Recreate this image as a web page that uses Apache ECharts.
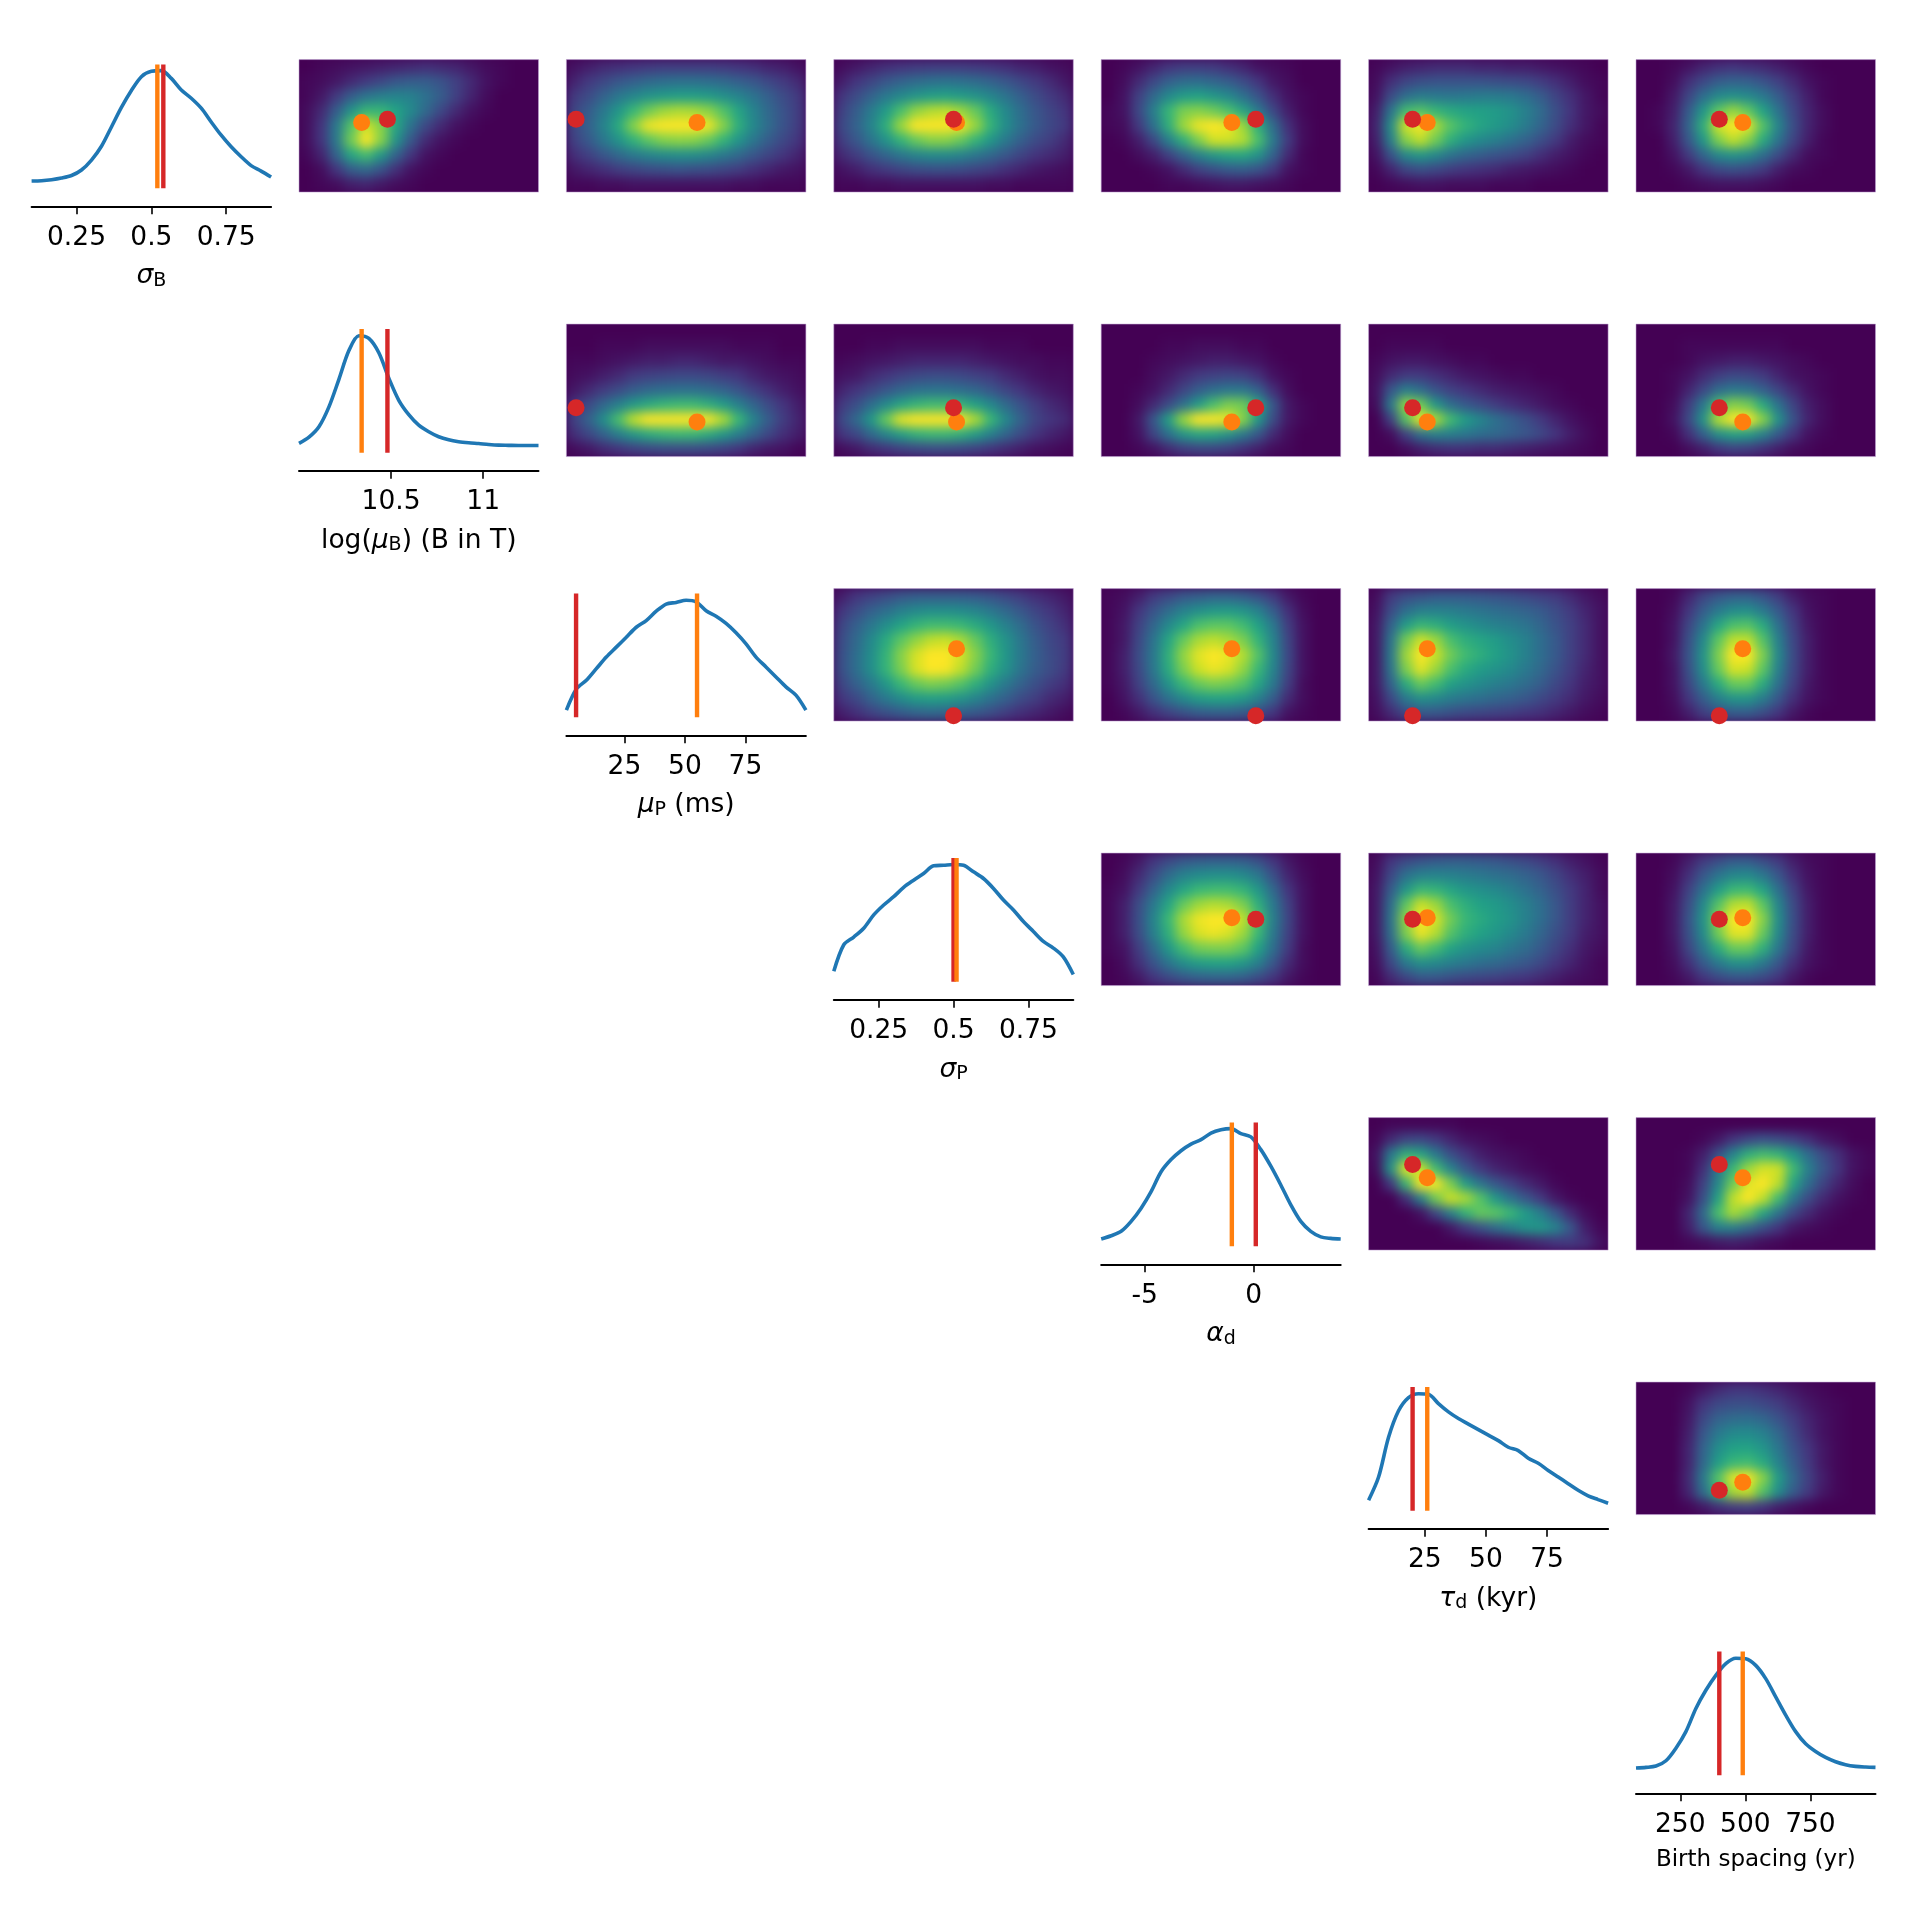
<!DOCTYPE html>
<html>
<head>
<meta charset="utf-8">
<script src="https://cdn.jsdelivr.net/npm/echarts@6/dist/echarts.min.js"></script>
<style>
  html, body { margin: 0; background: #fff; }
  #heat, #main { position: absolute; left: 0; top: 0; width: 1906px; height: 1906px; }
  #heat { filter: blur(5.5px); }
</style>
</head>
<body>
<div id="heat"></div>
<div id="main"></div>
<script>
// parameter ranges, ticks, and the two reference values (red = truth, orange = fit)
const paramMin = [0.1, 10, 1, 0.1, -7, 2, 80];
const paramMax = [0.9, 11.3, 100, 0.9, 4, 100, 1000];
const paramTicks = [[0.25, 0.5, 0.75], [10.5, 11], [25, 50, 75], [0.25, 0.5, 0.75], [-5, 0], [25, 50, 75], [250, 500, 750]];
const redValues = [0.54, 10.48, 5, 0.5, 0.1, 20, 400];
const orangeValues = [0.52, 10.34, 55, 0.51, -1, 26, 490];
const paramNames = [
  "{i|σ}{s|B}",
  "{t|log(}{i|μ}{s|B}{t|) (B in T)}",
  "{i|μ}{s|P}{t| (ms)}",
  "{i|σ}{s|P}",
  "{i|α}{s|d}",
  "{i|τ}{s|d}{t| (kyr)}",
  "{b|Birth spacing (yr)}",
];

// marginal curves, 25 evenly spaced samples over the parameter range, peak = 1
const curveSigmaB = [0, 0.003, 0.012, 0.027, 0.05, 0.1, 0.19, 0.315, 0.49, 0.667, 0.82, 0.945, 0.994, 1, 0.93, 0.825, 0.75, 0.66, 0.535, 0.415, 0.31, 0.22, 0.14, 0.09, 0.036];
const curveMuB = [0.02, 0.076, 0.17, 0.35, 0.6, 0.86, 0.995, 0.97, 0.84, 0.61, 0.41, 0.28, 0.185, 0.125, 0.08, 0.052, 0.035, 0.025, 0.018, 0.01, 0.004, 0.002, 0, 0, 0];
const curveMuP = [0, 0.19, 0.27, 0.375, 0.48, 0.57, 0.66, 0.75, 0.81, 0.895, 0.96, 0.975, 0.995, 0.98, 0.9, 0.85, 0.785, 0.7, 0.6, 0.48, 0.39, 0.3, 0.21, 0.135, 0];
const curveSigmaP = [0.03, 0.27, 0.34, 0.42, 0.54, 0.63, 0.705, 0.79, 0.855, 0.915, 0.985, 0.99, 0.997, 0.99, 0.93, 0.87, 0.78, 0.675, 0.585, 0.48, 0.39, 0.3, 0.24, 0.16, 0];
const curveAlpha = [0, 0.03, 0.07, 0.16, 0.28, 0.43, 0.61, 0.72, 0.8, 0.86, 0.9, 0.96, 0.99, 1, 0.955, 0.925, 0.81, 0.66, 0.49, 0.31, 0.16, 0.07, 0.02, 0.006, 0];
const curveTau = [0.03, 0.24, 0.6, 0.84, 0.96, 0.995, 0.99, 0.905, 0.83, 0.77, 0.72, 0.67, 0.62, 0.57, 0.51, 0.48, 0.41, 0.365, 0.3, 0.24, 0.18, 0.12, 0.07, 0.036, 0.003];
const curveBirth = [0, 0.006, 0.018, 0.066, 0.18, 0.33, 0.54, 0.705, 0.84, 0.945, 0.995, 0.99, 0.93, 0.81, 0.645, 0.48, 0.33, 0.22, 0.15, 0.096, 0.057, 0.03, 0.015, 0.009, 0.006];
const curves = [curveSigmaB, curveMuB, curveMuP, curveSigmaP, curveAlpha, curveTau, curveBirth];

// joint densities, 16 columns x 9 rows, top row first, 0-99
const heat01 = [
  [0,1,2,3,4,5,6,7,8,7,6,4,2,1,0,0],
  [1,2,4,7,10,14,18,20,20,17,12,7,3,1,0,0],
  [1,4,10,20,28,32,34,33,27,20,12,6,2,0,0,0],
  [2,7,20,40,55,55,47,36,24,14,7,3,1,0,0,0],
  [2,9,30,62,85,72,48,27,14,7,3,1,0,0,0,0],
  [2,9,30,68,95,72,40,18,7,3,1,0,0,0,0,0],
  [1,6,22,48,58,42,22,9,3,1,0,0,0,0,0,0],
  [0,2,9,20,24,17,8,3,1,0,0,0,0,0,0,0],
  [0,1,2,5,6,4,2,1,0,0,0,0,0,0,0,0],
];
const heat02 = [
  [3,5,7,8,9,10,11,11,11,11,10,9,8,6,5,3],
  [6,10,14,18,21,24,26,27,27,26,24,21,18,14,10,7],
  [10,15,22,29,35,40,43,45,45,43,39,34,28,21,15,10],
  [13,20,30,42,56,68,76,79,78,73,62,48,34,24,17,11],
  [14,22,34,50,72,90,98,99,97,90,72,52,36,25,17,11],
  [12,19,29,40,53,64,71,73,72,66,54,41,29,20,14,9],
  [8,12,18,24,30,34,37,38,38,35,30,24,18,13,9,6],
  [4,6,8,11,13,15,16,17,16,15,13,11,8,6,4,3],
  [1,1,2,2,3,3,3,3,3,3,3,2,2,1,1,1],
];
const heat03 = [
  [2,4,6,8,9,10,11,11,11,10,9,8,6,5,3,2],
  [5,9,13,18,22,25,27,28,27,25,22,18,14,10,7,4],
  [9,15,22,30,36,41,45,46,44,40,35,28,21,15,10,7],
  [12,20,31,44,60,74,80,82,76,66,50,36,26,18,13,9],
  [14,22,34,52,76,93,99,97,90,75,54,38,27,19,14,10],
  [11,18,28,40,54,66,72,72,66,54,42,30,21,15,11,7],
  [7,11,17,23,29,34,37,37,34,29,24,18,13,9,7,5],
  [3,5,8,10,13,15,16,16,15,13,11,8,6,4,3,2],
  [1,1,2,2,3,3,3,3,3,3,2,2,1,1,1,1],
];
const heat04 = [
  [0,1,3,6,9,11,11,10,8,6,3,2,1,0,0,0],
  [0,2,7,14,21,25,26,23,20,15,9,4,2,0,0,0],
  [0,3,12,24,36,44,46,42,36,27,17,8,3,1,0,0],
  [1,3,14,32,55,70,72,68,60,48,30,14,5,1,0,0],
  [1,2,10,27,52,76,90,97,90,76,52,25,8,2,0,0],
  [0,1,5,14,32,52,70,85,85,80,60,30,10,2,0,0],
  [0,0,2,5,12,22,33,42,47,48,40,22,7,1,0,0],
  [0,0,0,1,3,7,12,16,19,20,17,10,3,1,0,0],
  [0,0,0,0,1,1,2,3,4,4,3,2,1,0,0,0],
];
const heat05 = [
  [1,3,5,6,7,7,7,6,6,5,5,4,3,2,1,0],
  [2,8,13,16,17,17,17,17,16,15,14,11,8,5,2,1],
  [3,15,26,31,30,29,30,31,31,30,26,20,13,8,4,1],
  [5,28,58,62,55,50,47,46,44,40,33,25,16,9,4,2],
  [6,38,85,92,78,63,54,48,43,38,31,23,15,8,4,1],
  [5,32,72,82,68,52,42,36,32,27,22,16,10,5,2,1],
  [3,17,36,42,36,28,23,20,17,15,12,8,5,3,1,0],
  [1,6,13,16,14,11,9,8,7,5,4,3,2,1,0,0],
  [0,1,2,3,3,2,2,2,1,1,1,0,0,0,0,0],
];
const heat06 = [
  [0,0,1,3,6,8,9,8,7,5,3,1,0,0,0,0],
  [0,0,2,8,14,20,22,21,17,12,7,3,1,0,0,0],
  [0,0,4,13,26,36,39,36,30,20,11,5,1,0,0,0],
  [0,1,5,19,42,64,75,65,47,28,14,6,2,0,0,0],
  [0,1,6,22,52,85,97,88,62,35,16,6,2,0,0,0],
  [0,0,5,18,42,70,82,72,50,28,13,5,1,0,0,0],
  [0,0,3,10,23,36,40,36,26,15,7,2,1,0,0,0],
  [0,0,1,4,9,14,16,14,10,5,2,1,0,0,0,0],
  [0,0,0,1,2,3,3,3,2,1,0,0,0,0,0,0],
];
const heat12 = [
  [0,0,0,0,0,0,0,0,0,0,0,0,0,0,0,0],
  [0,0,1,1,1,2,2,2,2,2,2,1,1,1,0,0],
  [1,1,2,3,4,5,5,6,6,5,4,4,3,2,1,1],
  [2,3,5,7,10,12,13,14,14,13,11,9,6,4,3,2],
  [4,7,11,15,20,24,26,27,27,25,22,17,12,8,5,3],
  [9,15,24,33,43,50,55,57,57,52,44,33,23,15,9,5],
  [12,22,38,60,82,95,99,99,98,92,78,56,34,20,11,6],
  [8,14,22,32,42,50,54,56,55,50,42,32,22,14,8,5],
  [2,4,7,9,12,14,15,15,15,14,12,9,6,4,3,1],
];
const heat13 = [
  [0,0,0,0,0,0,0,0,0,0,0,0,0,0,0,0],
  [0,0,1,1,2,2,2,2,2,2,1,1,1,0,0,0],
  [1,2,3,4,5,6,6,6,6,5,4,3,2,2,1,1],
  [3,4,7,9,12,14,15,15,14,12,10,7,5,3,2,2],
  [6,9,13,18,23,27,28,28,26,23,18,13,9,6,4,3],
  [10,16,26,37,48,55,58,58,54,46,36,25,17,11,7,5],
  [14,24,42,66,88,97,99,98,92,78,56,36,22,13,9,7],
  [9,14,24,35,45,53,56,56,52,44,33,23,15,9,6,4],
  [2,4,7,9,12,14,15,15,14,12,9,7,5,3,2,1],
];
const heat14 = [
  [0,0,0,0,0,0,0,0,0,0,0,0,0,0,0,0],
  [0,0,0,0,1,1,2,2,2,1,1,0,0,0,0,0],
  [0,0,0,1,2,3,4,5,5,4,3,1,0,0,0,0],
  [0,0,0,2,4,7,10,12,13,12,8,3,1,0,0,0],
  [0,0,1,3,7,13,20,26,29,29,21,8,2,0,0,0],
  [0,0,2,7,15,27,44,60,70,68,48,18,4,1,0,0],
  [0,0,4,18,45,75,94,98,90,72,42,15,4,1,0,0],
  [0,0,3,13,27,41,48,47,40,30,18,7,2,0,0,0],
  [0,0,1,3,7,11,13,13,11,8,5,2,1,0,0,0],
];
const heat15 = [
  [0,0,0,0,0,0,0,0,0,0,0,0,0,0,0,0],
  [0,1,1,1,1,0,0,0,0,0,0,0,0,0,0,0],
  [1,3,4,4,3,2,1,1,0,0,0,0,0,0,0,0],
  [2,7,10,10,8,6,4,3,2,1,1,0,0,0,0,0],
  [3,18,32,26,17,12,9,7,5,4,3,2,1,0,0,0],
  [2,30,75,68,42,26,19,15,11,8,6,4,2,1,0,0],
  [0,12,62,90,78,58,44,35,27,21,16,10,6,3,1,0],
  [0,2,12,27,33,32,29,26,24,21,18,14,9,5,2,0],
  [0,0,2,5,7,8,8,7,7,6,5,4,3,2,1,0],
];
const heat16 = [
  [0,0,0,0,0,0,0,0,0,0,0,0,0,0,0,0],
  [0,0,0,1,1,1,1,1,1,1,0,0,0,0,0,0],
  [0,0,0,1,3,4,5,5,4,3,2,1,0,0,0,0],
  [0,0,1,3,7,11,14,13,10,6,3,2,1,0,0,0],
  [0,0,1,6,14,25,30,28,21,13,7,3,1,0,0,0],
  [0,0,2,11,30,60,72,68,50,28,13,5,2,0,0,0],
  [0,0,3,14,40,80,97,95,72,40,17,6,2,0,0,0],
  [0,0,1,8,21,38,46,44,33,19,9,3,1,0,0,0],
  [0,0,0,2,5,9,12,11,8,5,2,1,0,0,0,0],
];
const heat23 = [
  [5,9,12,15,18,20,20,20,20,19,17,14,11,8,6,4],
  [9,15,21,26,32,36,38,38,37,34,29,24,18,13,9,6],
  [13,21,29,38,47,54,58,58,56,50,42,33,25,17,12,8],
  [15,24,36,50,64,74,82,84,78,66,52,40,29,20,14,10],
  [16,26,38,54,72,86,95,96,86,72,56,42,30,21,15,11],
  [16,26,38,54,70,86,94,92,82,68,52,40,28,20,15,10],
  [13,21,30,42,56,66,70,68,62,52,40,30,22,16,11,8],
  [9,14,22,30,37,43,45,44,40,34,27,21,15,11,7,5],
  [5,8,12,16,19,22,23,22,20,18,15,11,8,6,4,2],
];
const heat24 = [
  [1,2,5,10,14,18,20,22,22,20,16,10,4,1,0,0],
  [1,3,9,17,25,33,38,42,43,40,33,20,8,2,0,0],
  [1,4,12,23,36,48,60,64,64,58,46,30,11,3,0,0],
  [1,4,14,28,48,66,78,82,78,70,54,34,13,3,0,0],
  [1,5,15,30,52,74,88,94,90,80,62,36,14,3,0,0],
  [1,5,14,29,50,70,84,90,86,74,56,34,13,3,0,0],
  [1,4,12,24,40,56,66,70,68,62,48,30,11,2,0,0],
  [0,3,8,17,27,36,43,46,46,42,33,20,7,2,0,0],
  [0,1,4,8,12,16,19,20,20,18,14,9,3,1,0,0],
];
const heat25 = [
  [2,10,15,17,19,19,19,18,17,16,14,12,10,7,4,2],
  [3,15,26,32,33,32,30,28,26,24,22,19,15,10,6,3],
  [4,22,44,55,52,45,40,36,33,31,28,23,17,12,7,3],
  [4,28,68,85,76,60,52,48,44,38,33,26,19,12,7,3],
  [4,30,76,94,84,68,58,52,46,40,33,26,19,12,7,3],
  [4,28,70,88,76,60,50,44,40,36,30,24,17,11,6,3],
  [4,22,50,66,58,46,40,36,32,29,25,20,14,9,5,3],
  [3,14,30,38,36,31,28,26,23,21,18,14,10,7,4,2],
  [2,7,14,18,18,16,14,13,12,11,9,8,6,4,2,1],
];
const heat26 = [
  [0,0,1,6,13,18,21,21,17,11,5,2,1,0,0,0],
  [0,0,2,9,20,30,37,38,30,19,9,3,1,0,0,0],
  [0,0,3,13,28,48,60,62,50,27,12,4,1,0,0,0],
  [0,0,3,16,36,64,82,82,62,33,14,5,1,0,0,0],
  [0,0,4,17,40,70,94,94,70,36,15,5,1,0,0,0],
  [0,0,3,16,38,66,86,84,64,33,14,5,1,0,0,0],
  [0,0,3,13,30,50,66,66,50,27,12,4,1,0,0,0],
  [0,0,2,9,20,32,40,40,31,18,8,3,1,0,0,0],
  [0,0,1,5,11,16,19,19,15,9,4,1,0,0,0,0],
];
const heat34 = [
  [0,1,4,9,14,18,20,21,21,20,16,9,4,1,0,0],
  [0,2,7,15,25,33,37,39,39,36,29,16,6,2,0,0],
  [1,3,10,22,36,48,56,58,58,54,42,24,9,3,0,0],
  [1,5,15,30,48,66,76,80,78,70,52,30,12,3,0,0],
  [1,5,16,34,56,78,90,98,94,82,60,32,13,3,0,0],
  [1,5,15,32,52,74,86,90,86,76,56,30,12,3,0,0],
  [1,3,11,24,42,58,68,70,70,64,46,26,10,2,0,0],
  [0,2,8,17,28,38,44,46,46,42,32,18,7,2,0,0],
  [0,1,4,9,14,18,21,22,22,20,15,9,4,1,0,0],
];
const heat35 = [
  [2,9,14,17,19,20,20,19,18,16,14,11,8,5,3,1],
  [3,14,27,33,34,33,31,29,27,25,22,18,13,8,5,2],
  [4,20,42,56,54,48,42,39,36,32,27,22,16,10,6,2],
  [4,26,64,84,76,60,52,46,43,38,32,26,18,11,6,3],
  [4,28,74,95,86,68,56,50,45,40,33,26,18,11,6,3],
  [4,26,70,90,80,62,52,46,42,36,30,23,16,10,5,3],
  [3,20,50,66,58,47,40,37,34,29,25,19,13,8,4,2],
  [2,14,30,38,36,32,29,26,24,21,18,14,9,6,3,1],
  [1,7,13,18,18,16,14,13,12,10,9,7,5,3,2,1],
];
const heat36 = [
  [0,0,1,5,10,15,19,19,15,10,5,2,1,0,0,0],
  [0,0,2,8,18,28,35,36,29,18,8,3,1,0,0,0],
  [0,0,3,12,27,44,56,57,47,27,12,4,1,0,0,0],
  [0,0,4,15,36,62,80,82,64,35,15,5,1,0,0,0],
  [0,0,4,17,40,72,94,94,72,38,16,5,1,0,0,0],
  [0,0,4,16,37,68,88,88,66,36,15,5,1,0,0,0],
  [0,0,3,13,29,50,66,66,52,29,13,4,1,0,0,0],
  [0,0,2,8,19,30,38,38,30,18,8,3,1,0,0,0],
  [0,0,1,4,9,14,17,17,14,9,4,1,0,0,0,0],
];
const heat45 = [
  [0,1,1,1,1,1,0,0,0,0,0,0,0,0,0,0],
  [1,7,13,14,10,6,3,2,1,0,0,0,0,0,0,0],
  [3,30,52,48,30,16,9,5,3,2,1,0,0,0,0,0],
  [2,40,88,85,58,34,18,10,6,4,2,1,0,0,0,0],
  [0,10,55,92,92,70,44,28,18,12,7,4,1,0,0,0],
  [0,0,8,32,68,84,78,62,42,28,18,10,4,1,0,0],
  [0,0,0,3,14,32,54,66,64,56,44,32,18,7,2,0],
  [0,0,0,0,0,4,10,17,25,32,40,42,34,18,5,1],
  [0,0,0,0,0,0,0,1,2,3,5,7,9,10,8,3],
];
const heat46 = [
  [0,0,0,0,0,0,0,0,0,0,0,0,0,0,0,0],
  [0,0,0,0,1,4,9,14,17,15,12,8,4,2,0,0],
  [0,0,0,1,5,16,34,52,58,54,42,26,15,8,3,1],
  [0,0,0,1,8,30,56,76,86,85,58,33,18,9,3,1],
  [0,0,0,2,12,36,68,88,94,82,48,26,13,6,2,0],
  [0,0,0,3,16,46,82,94,82,58,30,15,7,3,1,0],
  [0,0,0,6,24,60,78,68,48,28,14,7,3,1,0,0],
  [0,0,0,5,18,32,32,24,16,9,4,2,1,0,0,0],
  [0,0,0,1,2,4,5,4,2,1,0,0,0,0,0,0],
];
const heat56 = [
  [0,0,0,1,4,7,9,9,8,6,4,2,1,0,0,0],
  [0,0,0,3,9,14,16,16,14,11,7,4,2,1,0,0],
  [0,0,0,4,14,22,25,26,23,17,11,6,3,1,0,0],
  [0,0,0,5,18,30,36,37,33,24,14,7,3,1,0,0],
  [0,0,0,6,22,38,46,47,41,29,17,9,4,1,0,0],
  [0,0,0,6,24,45,56,58,50,34,20,10,4,1,0,0],
  [0,0,0,7,30,62,88,92,72,44,24,12,5,1,0,0],
  [0,0,0,6,25,55,78,82,62,38,20,10,4,1,0,0],
  [0,0,0,1,4,8,11,12,9,5,3,1,0,0,0,0],
];
const heatPanels = [
  [0, 1, heat01], [0, 2, heat02], [0, 3, heat03], [0, 4, heat04], [0, 5, heat05], [0, 6, heat06],
  [1, 2, heat12], [1, 3, heat13], [1, 4, heat14], [1, 5, heat15], [1, 6, heat16],
  [2, 3, heat23], [2, 4, heat24], [2, 5, heat25], [2, 6, heat26],
  [3, 4, heat34], [3, 5, heat35], [3, 6, heat36],
  [4, 5, heat45], [4, 6, heat46],
  [5, 6, heat56],
];

// viridis with the low end lifted a little, the blur eats the shoulders otherwise
const viridis = ["#440154", "#44377f", "#38598c", "#2c748e", "#238c8c", "#22a286", "#38b777", "#60c860", "#93d641", "#c9e126", "#fde725"];

const panelLeft = (col) => 31.6 + col * 267.4;
const panelTop = (row) => 59.6 + row * 264.5;
const panelW = 239.5;
const panelH = 132.5;
const gridAt = (row, col) => ({ left: panelLeft(col), top: panelTop(row), width: panelW, height: panelH, containLabel: false });

// heatmaps go on their own canvas so it can be softened, the clip keeps the panel edges sharp
const heatChart = echarts.init(document.getElementById("heat"), null, { renderer: "canvas" });
const heatGrids = [];
const heatX = [];
const heatY = [];
const heatSeries = [];
let clip = "";
heatPanels.forEach(([row, col, values], k) => {
  heatGrids.push(gridAt(row, col));
  heatX.push({ type: "category", gridIndex: k, show: false, data: values[0].map((_, c) => c) });
  heatY.push({ type: "category", gridIndex: k, show: false, inverse: true, data: values.map((_, r) => r) });
  const cells = [];
  values.forEach((line, r) => line.forEach((v, c) => cells.push([c, r, v])));
  heatSeries.push({ type: "heatmap", xAxisIndex: k, yAxisIndex: k, data: cells, silent: true, progressive: 0 });
  clip += `M${panelLeft(col)} ${panelTop(row)}h${panelW}v${panelH}h${-panelW}z`;
});
document.getElementById("heat").style.clipPath = `path("${clip}")`;
heatChart.setOption({
  animation: false,
  backgroundColor: "#440154",
  grid: heatGrids,
  xAxis: heatX,
  yAxis: heatY,
  visualMap: { show: false, min: 0, max: 93, seriesIndex: heatSeries.map((_, i) => i), inRange: { color: viridis } },
  series: heatSeries,
});

// curves, axes and dots
const myChart = echarts.init(document.getElementById("main"), null, { renderer: "canvas" });
const grids = [];
const xAxes = [];
const yAxes = [];
const series = [];
const nameStyles = {
  t: { fontSize: 26.5, fontFamily: "DejaVu Sans", color: "#000" },
  i: { fontSize: 26.5, fontFamily: "DejaVu Sans", fontStyle: "italic", color: "#000" },
  s: { fontSize: 19, fontFamily: "DejaVu Sans", color: "#000", padding: [9, 0, 0, 0] },
  b: { fontSize: 23, fontFamily: "DejaVu Sans", color: "#000" },
};

curves.forEach((curve, p) => {
  const idx = grids.length;
  grids.push(gridAt(p, p));
  const ticks = paramTicks[p];
  xAxes.push({
    type: "value",
    gridIndex: idx,
    min: paramMin[p],
    max: paramMax[p],
    offset: 14.2,
    splitLine: { show: false },
    axisLine: { show: true, onZero: false, lineStyle: { color: "#000", width: 2 } },
    axisTick: { show: true, length: 8, customValues: ticks, lineStyle: { color: "#000", width: 1.6 } },
    axisLabel: { show: true, customValues: ticks, margin: 18, fontSize: 26.5, fontFamily: "DejaVu Sans", color: "#000", formatter: (v) => String(v) },
    name: paramNames[p],
    nameLocation: "middle",
    nameGap: p === 6 ? 67 : 70,
    nameTextStyle: { rich: nameStyles, verticalAlign: "middle" },
  });
  yAxes.push({ type: "value", gridIndex: idx, min: -0.1, max: 1.1, show: false });
  const step = (paramMax[p] - paramMin[p]) / (curve.length - 1);
  series.push({
    type: "line",
    xAxisIndex: idx,
    yAxisIndex: idx,
    data: curve.map((v, i) => [paramMin[p] + i * step, v]),
    smooth: 0.3,
    symbol: "none",
    silent: true,
    lineStyle: { color: "#1f77b4", width: 3.6 },
  });
  [[redValues[p], "#d62728"], [orangeValues[p], "#ff7f0e"]].forEach(([v, color]) => {
    series.push({
      type: "line",
      xAxisIndex: idx,
      yAxisIndex: idx,
      data: [[v, -0.065], [v, 1.055]],
      symbol: "none",
      silent: true,
      lineStyle: { color, width: 4.4, cap: "butt" },
    });
  });
});

heatPanels.forEach(([row, col]) => {
  const idx = grids.length;
  grids.push({ ...gridAt(row, col), show: true, borderWidth: 1, borderColor: "rgba(190,160,210,0.55)", backgroundColor: "transparent" });
  xAxes.push({ type: "value", gridIndex: idx, min: paramMin[col], max: paramMax[col], show: false });
  yAxes.push({ type: "value", gridIndex: idx, min: paramMin[row], max: paramMax[row], show: false });
  [[orangeValues, "#ff7f0e"], [redValues, "#d62728"]].forEach(([vals, color]) => {
    series.push({
      type: "scatter",
      xAxisIndex: idx,
      yAxisIndex: idx,
      data: [[vals[col], vals[row]]],
      symbolSize: 17,
      clip: true,
      silent: true,
      itemStyle: { color, opacity: 1 },
    });
  });
});

myChart.setOption({
  animation: false,
  grid: grids,
  xAxis: xAxes,
  yAxis: yAxes,
  series,
});
</script>
</body>
</html>
